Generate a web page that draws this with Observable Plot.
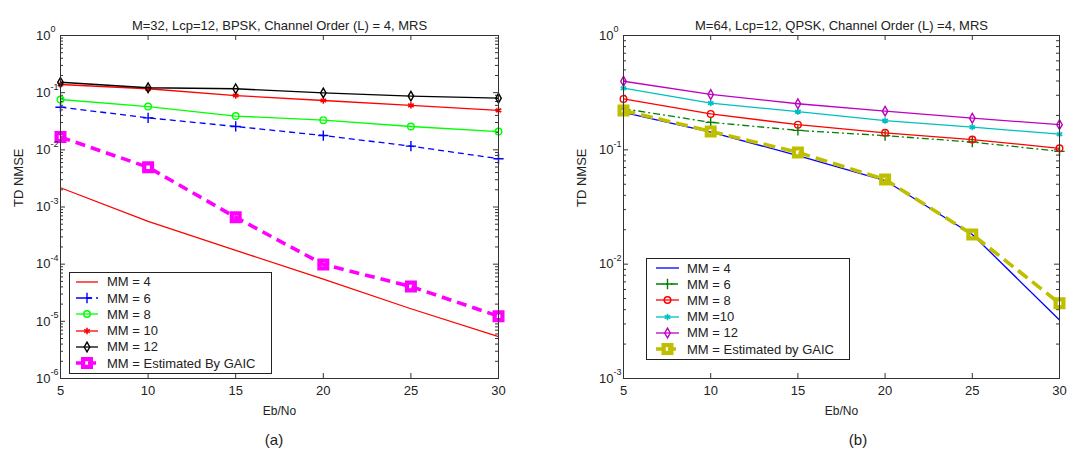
<!DOCTYPE html>
<html><head><meta charset="utf-8">
<script src="https://cdn.jsdelivr.net/npm/d3@7"></script>
<script src="https://cdn.jsdelivr.net/npm/@observablehq/plot@0.6"></script>
<style>
body{margin:0;background:#fff;}
#wrap{position:relative;width:1071px;height:450px;font-family:"Liberation Sans",Arial,sans-serif;color:#222;overflow:hidden;background:#fff}
.panel{position:absolute;top:0}
.legend{position:absolute;border:1px solid #222;background:#fff;box-sizing:border-box}
.row{position:absolute;left:0;height:16px;display:flex;align-items:center;font-size:13px;white-space:nowrap;color:#222}
.row svg{display:block;flex:none}
.cap{position:absolute;font-size:15px;transform:translate(-50%,-50%);color:#222}
</style></head><body><div id="wrap"></div>
<script>
// ---------------- data ----------------
const ebno = [5, 10, 15, 20, 25, 30];
const xTicks = [5, 10, 15, 20, 25, 30];

// (a) M=32, BPSK
const a_mm4  = [2.17e-3, 5.6e-4, 1.74e-4, 5.5e-5, 1.66e-5, 5.4e-6];
const a_mm6  = [0.0557, 0.0363, 0.0256, 0.0178, 0.0116, 0.0070];
const a_mm8  = [0.076, 0.057, 0.039, 0.033, 0.0256, 0.0209];
const a_mm10 = [0.139, 0.117, 0.089, 0.073, 0.060, 0.049];
const a_mm12 = [0.152, 0.122, 0.117, 0.099, 0.087, 0.080];
const a_gaic = [0.0167, 0.00497, 6.6e-4, 9.9e-5, 4.07e-5, 1.23e-5];
const labelsA = ["MM = 4", "MM = 6", "MM = 8", "MM = 10", "MM = 12", "MM = Estimated By GAIC"];
const yTicksA = [1, 1e-1, 1e-2, 1e-3, 1e-4, 1e-5, 1e-6];
const titleA = "M=32, Lcp=12, BPSK, Channel Order (L) = 4, MRS";

// (b) M=64, QPSK
const b_mm4  = [0.213, 0.143, 0.089, 0.0539, 0.0182, 0.00325];
const b_mm6  = [0.229, 0.174, 0.148, 0.133, 0.117, 0.097];
const b_mm8  = [0.279, 0.206, 0.166, 0.141, 0.123, 0.103];
const b_mm10 = [0.346, 0.256, 0.216, 0.180, 0.158, 0.137];
const b_mm12 = [0.398, 0.305, 0.253, 0.218, 0.189, 0.166];
const b_gaic = [0.221, 0.145, 0.095, 0.055, 0.0182, 0.00455];
const labelsB = ["MM = 4", "MM = 6", "MM = 8", "MM =10", "MM = 12", "MM = Estimated by GAIC"];
const yTicksB = [1, 1e-1, 1e-2, 1e-3];
const titleB = "M=64, Lcp=12, QPSK, Channel Order (L) =4, MRS";

const xLabel = "Eb/No";
const yLabel = "TD NMSE";
const captions = ["(a)", "(b)"];

// ---------------- styles ----------------
const stylesA = [
  {color:"#ff0000", width:1.3, dash:null, symbol:null},
  {color:"#0000ff", width:1.3, dash:"6,4", symbol:"plus", r:3.4, mw:1.4},
  {color:"#00ff00", width:1.3, dash:null, symbol:"circle", r:3.3, mw:1.4},
  {color:"#ff0000", width:1.3, dash:null, symbol:"asterisk", r:3, mw:1.6},
  {color:"#000000", width:1.3, dash:null, symbol:"diamond", r:2.9, mw:1.4},
  {color:"#ff00ff", width:3.6, dash:"10,6", symbol:"square", r:4.4, mw:4.2}
];
const stylesB = [
  {color:"#0000ff", width:1.3, dash:null, symbol:null},
  {color:"#008000", width:1.3, dash:"7,3,2,3", symbol:"plus", r:3.4, mw:1.4},
  {color:"#ff0000", width:1.3, dash:null, symbol:"circle", r:3.3, mw:1.4},
  {color:"#00bfbf", width:1.3, dash:null, symbol:"asterisk", r:3, mw:1.6},
  {color:"#bf00bf", width:1.3, dash:null, symbol:"diamond", r:2.9, mw:1.4},
  {color:"#bfbf00", width:3.6, dash:"12,6", symbol:"square", r:4.4, mw:4.2}
];

const wrap = document.getElementById("wrap");
const axisColor = "#333";
const textColor = "#222";
const H = 418, MT = 35, MB = 40;

function minorTicks(lo, hi) {
  const out = [];
  for (let e = lo; e < hi; e++) for (let m = 2; m <= 9; m++) out.push(m * Math.pow(10, e));
  return out;
}

function makePanel({values, styles, yTicks, yDomain, title, width, marginLeft, marginRight}) {
  const marks = [];
  const fh = H - MT - MB;
  const fw = width - marginLeft - marginRight;
  const minor = minorTicks(Math.round(Math.log10(yDomain[0])), Math.round(Math.log10(yDomain[1])));
  // inward ticks on all four sides
  const tk = {stroke: axisColor, strokeWidth: 1};
  marks.push(Plot.tickX(xTicks, {...tk, x: d => d, insetTop: fh - 5}));
  marks.push(Plot.tickX(xTicks, {...tk, x: d => d, insetBottom: fh - 5}));
  marks.push(Plot.tickY(yTicks, {...tk, y: d => d, insetRight: fw - 5}));
  marks.push(Plot.tickY(yTicks, {...tk, y: d => d, insetLeft: fw - 5}));
  marks.push(Plot.tickY(minor, {...tk, y: d => d, insetRight: fw - 3}));
  marks.push(Plot.tickY(minor, {...tk, y: d => d, insetLeft: fw - 3}));

  // series
  values.forEach((vals, i) => {
    const s = styles[i];
    const rows = ebno.map((x, j) => ({x, y: vals[j]}));
    marks.push(Plot.line(rows, {x: "x", y: "y", stroke: s.color, strokeWidth: s.width,
      strokeDasharray: s.dash || undefined, strokeLinejoin: "round", strokeLinecap: "butt"}));
    if (s.symbol) {
      marks.push(Plot.dot(rows, {x: "x", y: "y", symbol: s.symbol, r: s.r, stroke: s.color,
        strokeWidth: s.mw, fill: "none"}));
    }
  });

  marks.push(Plot.frame({stroke: axisColor, strokeWidth: 1}));

  // tick labels
  marks.push(Plot.text(yTicks, {y: d => d, text: () => "10", frameAnchor: "left", textAnchor: "end",
    dx: -10, fontSize: 13, fill: textColor}));
  marks.push(Plot.text(yTicks, {y: d => d, text: d => String(Math.round(Math.log10(d))), frameAnchor: "left",
    textAnchor: "start", dx: -10, dy: -6, fontSize: 9, fill: textColor}));
  marks.push(Plot.text(xTicks, {x: d => d, text: d => String(d), frameAnchor: "bottom", lineAnchor: "top",
    dy: 7, fontSize: 13, fill: textColor}));
  // axis labels and title
  marks.push(Plot.text([xLabel], {text: d => d, frameAnchor: "bottom", dy: 36, fontSize: 12, fill: textColor}));
  marks.push(Plot.text([yLabel], {text: d => d, frameAnchor: "left", rotate: -90, dx: -42, fontSize: 13, fill: textColor}));
  marks.push(Plot.text([title], {text: d => d, frameAnchor: "top", dy: -15, fontSize: 13, fill: textColor}));

  return Plot.plot({
    width, height: H, marginLeft, marginRight, marginTop: MT, marginBottom: MB,
    x: {domain: [5, 30], axis: null},
    y: {type: "log", domain: yDomain, axis: null},
    style: {fontFamily: '"Liberation Sans", Arial, sans-serif', background: "transparent", overflow: "visible"},
    marks
  });
}

const symMap = {plus: d3.symbolPlus, circle: d3.symbolCircle, asterisk: d3.symbolAsterisk,
  diamond: d3.symbolDiamond, square: d3.symbolSquare};

function makeLegend({left, top, width, height, row0, rowStep, x0, x1, textX}, labels, styles) {
  const box = document.createElement("div");
  box.className = "legend";
  Object.assign(box.style, {left: left + "px", top: top + "px", width: width + "px", height: height + "px"});
  labels.forEach((lab, i) => {
    const s = styles[i];
    const row = document.createElement("div");
    row.className = "row";
    row.style.top = (row0 + i * rowStep - top - 1 - 8) + "px";
    const w = textX - left - 1;
    const svg = d3.create("svg").attr("width", w).attr("height", 16).style("overflow", "visible");
    svg.append("line").attr("x1", x0 - left - 1).attr("x2", x1 - left - 1).attr("y1", 8).attr("y2", 8)
      .attr("stroke", s.color).attr("stroke-width", s.width).attr("stroke-dasharray", s.dash ? (s.width > 2 ? "8,4" : s.dash) : null);
    if (s.symbol) {
      svg.append("path").attr("transform", `translate(${(x0 + x1) / 2 - left - 1},8)`)
        .attr("d", d3.symbol(symMap[s.symbol], Math.PI * s.r * s.r)())
        .attr("fill", "none").attr("stroke", s.color).attr("stroke-width", s.mw);
    }
    row.appendChild(svg.node());
    const t = document.createElement("span");
    t.textContent = lab;
    row.appendChild(t);
    box.appendChild(row);
  });
  wrap.appendChild(box);
}

// panel (a)
const pa = document.createElement("div");
pa.className = "panel"; pa.style.left = "0px";
pa.appendChild(makePanel({values: [a_mm4, a_mm6, a_mm8, a_mm10, a_mm12, a_gaic], styles: stylesA,
  yTicks: yTicksA, yDomain: [1e-6, 1], title: titleA, width: 520, marginLeft: 60, marginRight: 22}));
wrap.appendChild(pa);

// panel (b)
const pb = document.createElement("div");
pb.className = "panel"; pb.style.left = "560px";
pb.appendChild(makePanel({values: [b_mm4, b_mm6, b_mm8, b_mm10, b_mm12, b_gaic], styles: stylesB,
  yTicks: yTicksB, yDomain: [1e-3, 1], title: titleB, width: 511, marginLeft: 63, marginRight: 12}));
wrap.appendChild(pb);

makeLegend({left: 69, top: 272, width: 203, height: 102, row0: 281.7, rowStep: 16.3, x0: 76, x1: 98, textX: 107}, labelsA, stylesA);
makeLegend({left: 646, top: 258, width: 204, height: 102, row0: 268, rowStep: 16.2, x0: 656, x1: 679, textX: 687}, labelsB, stylesB);

[[274, captions[0]], [858, captions[1]]].forEach(([x, t]) => {
  const c = document.createElement("div");
  c.className = "cap"; c.textContent = t;
  c.style.left = x + "px"; c.style.top = "439px";
  wrap.appendChild(c);
});
</script>
</body></html>
